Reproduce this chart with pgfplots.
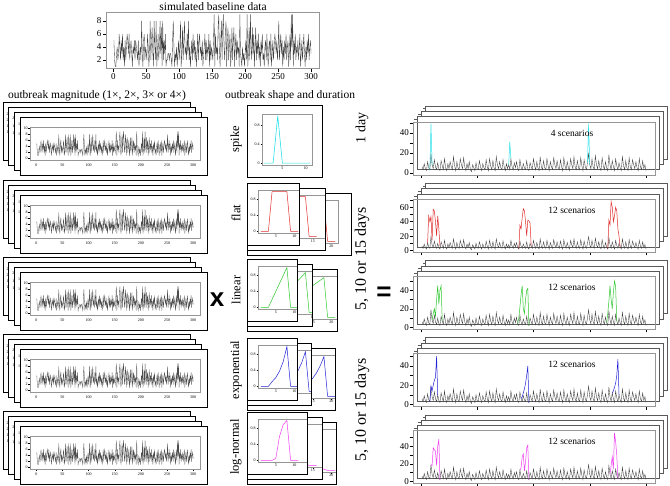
\documentclass[border=0pt]{standalone}
\usepackage{fontspec}
\setmainfont{Liberation Serif}
\newfontfamily\sansf{Liberation Sans}
\usepackage{pgfplots}
\pgfplotsset{compat=1.18}
\usepackage{pgfplotstable}

\definecolor{cspike}{RGB}{40,225,235}
\definecolor{cflat}{RGB}{225,45,45}
\definecolor{clin}{RGB}{45,200,45}
\definecolor{cexp}{RGB}{35,35,215}
\definecolor{clogn}{RGB}{240,60,240}
\definecolor{boxgray}{RGB}{150,150,150}

% simulated baseline, weeks 1-300
\pgfplotstableread[row sep=\\]{
y\\
5\\2\\1\\1\\3\\4\\2\\3\\6\\4\\ 2\\5\\3\\6\\2\\4\\1\\5\\2\\4\\
6\\5\\3\\6\\2\\4\\5\\3\\1\\4\\ 3\\5\\2\\5\\4\\3\\2\\5\\1\\3\\
4\\2\\8\\3\\1\\5\\6\\2\\4\\3\\ 2\\6\\4\\1\\3\\8\\2\\5\\7\\3\\
1\\8\\4\\2\\8\\1\\3\\6\\2\\4\\ 8\\3\\7\\1\\8\\2\\5\\3\\6\\1\\
2\\2\\3\\3\\2\\3\\3\\2\\1\\5\\ 8\\4\\1\\3\\2\\4\\1\\3\\5\\2\\
4\\8\\1\\3\\7\\2\\5\\8\\3\\4\\ 2\\6\\3\\8\\2\\4\\1\\3\\5\\2\\
6\\3\\5\\2\\4\\1\\3\\6\\2\\5\\ 6\\3\\4\\2\\5\\1\\3\\4\\6\\2\\
5\\2\\4\\3\\6\\1\\5\\2\\4\\3\\ 2\\5\\9\\1\\6\\3\\4\\2\\7\\9\\
3\\1\\5\\8\\2\\7\\9\\4\\2\\6\\ 8\\1\\5\\7\\2\\4\\6\\1\\3\\7\\
2\\5\\7\\1\\4\\6\\2\\5\\3\\4\\ 1\\9\\3\\2\\1\\4\\2\\3\\1\\3\\
5\\2\\9\\1\\3\\7\\2\\9\\4\\2\\ 7\\3\\6\\1\\4\\7\\2\\5\\3\\6\\
2\\4\\1\\5\\3\\6\\2\\3\\1\\4\\ 5\\2\\6\\3\\1\\4\\5\\2\\6\\1\\
3\\5\\2\\4\\6\\5\\3\\5\\2\\4\\ 8\\2\\4\\6\\3\\5\\1\\4\\2\\5\\
3\\6\\2\\4\\5\\1\\3\\6\\2\\9\\ 4\\9\\1\\5\\3\\6\\2\\4\\3\\5\\
2\\4\\6\\1\\3\\5\\2\\4\\6\\3\\ 1\\4\\2\\5\\3\\6\\2\\4\\5\\3\\
}\base

% baseline counts of the outbreak examples, days 1-200
\pgfplotstableread[row sep=\\]{
y\\
6\\3\\9\\4\\2\\11\\5\\3\\19\\8\\ 4\\13\\6\\3\\10\\4\\2\\12\\7\\3\\
14\\5\\2\\9\\4\\11\\6\\3\\16\\7\\ 2\\11\\5\\3\\14\\8\\4\\15\\6\\2\\
9\\4\\11\\3\\1\\8\\5\\2\\10\\4\\ 3\\12\\6\\2\\9\\5\\3\\13\\6\\2\\
14\\7\\3\\12\\5\\2\\16\\8\\4\\11\\ 5\\3\\13\\6\\2\\9\\4\\8\\3\\14\\
6\\3\\10\\5\\11\\4\\2\\13\\6\\3\\ 9\\5\\3\\12\\4\\2\\10\\6\\3\\14\\
7\\3\\11\\5\\2\\16\\6\\3\\12\\5\\ 3\\14\\7\\2\\11\\6\\3\\15\\8\\4\\
12\\5\\3\\13\\6\\2\\15\\7\\3\\11\\ 5\\2\\14\\8\\4\\16\\6\\3\\12\\5\\
3\\15\\7\\2\\13\\6\\3\\10\\19\\8\\ 4\\14\\6\\3\\17\\8\\4\\12\\5\\2\\
15\\7\\3\\11\\5\\2\\18\\8\\3\\12\\ 6\\2\\14\\7\\3\\10\\5\\2\\16\\7\\
3\\12\\5\\2\\15\\6\\3\\13\\8\\4\\ 11\\5\\2\\14\\6\\3\\12\\4\\8\\2\\
}\obase

\pgfplotsset{
  rst/.style={scale only axis, anchor=north west,
    axis line style={boxgray, line width=0.5pt},
    tick align=outside, tick pos=left,
    major tick length=1.5pt, minor tick length=1.5pt,
    every tick/.style={black, line width=0.35pt},
    /pgf/number format/assume math mode=true,
    tick label style={font=\fontsize{4}{4}\selectfont, inner sep=0.6pt}},
  shp/.style={width=80pt, height=43pt, xmin=0.2, xmax=21.8, ymin=-0.04, ymax=1.04,
    xtick={5,10,15,20}, ytick={0,0.4,0.8}},
}

% left column: one framed copy of the baseline plot
\newcommand\lpanel[7]{%
  \pgfmathsetmacro\pL{#1}\pgfmathsetmacro\pT{#2}%
  \pgfmathsetmacro\pR{\pL+187}\pgfmathsetmacro\pB{\pT+58}%
  \pgfmathsetmacro\aL{\pL+10}\pgfmathsetmacro\aT{\pT+10}%
  \draw[line width=0.8pt, fill=white] (\pL pt,-\pT pt) rectangle (\pR pt,-\pB pt);
  \begin{axis}[rst, at={(\aL pt,-\aT pt)}, width=170pt, height=33pt,
    xmin=-12, xmax=313, ymin=#3, ymax=#4, ytick={#5},
    xtick={0,50,...,300}, #6]
    #7
  \end{axis}}

\newcommand\lstack[1]{%
  \lpanel{3}{#1}{-1.1}{27}{0,5,...,25}{xticklabels={}}{}%
  \lpanel{8.67}{#1+5}{-0.9}{21}{0,5,...,20}{xticklabels={}}{}%
  \lpanel{14.33}{#1+10}{-0.7}{16}{0,5,10,15}{xticklabels={}}{}%
  \lpanel{20}{#1+15}{-0.5}{10.5}{0,2,...,10}{xticklabel style={yshift=-2pt}}%
    {\addplot[line width=0.3pt, black!70] table[x expr=\coordindex+1, y=y]{\base};}%
}

% middle column: one clipped shape plot
\newcommand\spanel[6]{%
  \begin{scope}
    \clip (#1pt,-#2pt) rectangle (#3pt,-#4pt);
    \fill[white] (#1pt,-#2pt) rectangle (#3pt,-#4pt);
    \begin{axis}[rst, #5] #6 \end{axis}
  \end{scope}
  \draw[line width=0.8pt] (#1pt,-#2pt) rectangle (#3pt,-#4pt);}

\newcommand\sstack[8]{%
  \pgfmathsetmacro\tA{#1}\pgfmathsetmacro\tB{#1+5}\pgfmathsetmacro\tC{#1+10}%
  \pgfmathsetmacro\bA{#1+62}\pgfmathsetmacro\bB{#1+67}\pgfmathsetmacro\bC{#1+72}%
  \pgfmathsetmacro\yA{#1+7}\pgfmathsetmacro\yB{#1+12}\pgfmathsetmacro\yC{#1+17}%
  \spanel{247}{\tC}{#4}{\bC}{at={(258pt,-\yC pt)},shp}{\addplot[#5,line width=0.5pt] coordinates {#8};}%
  \spanel{247}{\tB}{#3}{\bB}{at={(258pt,-\yB pt)},shp}{\addplot[#5,line width=0.5pt] coordinates {#7};}%
  \spanel{247}{\tA}{#2}{\bA}{at={(258pt,-\yA pt)},shp}{\addplot[#5,line width=0.5pt] coordinates {#6};}%
}

% right column: stack of outbreak scenarios
\newcommand\rstack[5]{%
  \pgfmathsetmacro\rT{#1}%
  \foreach \k in {3,2,1}{%
    \draw[black!65, line width=0.5pt, fill=white]
      ({(413+4.2*\k)*1pt},{-(\rT-5.3*\k)*1pt}) rectangle ({(655+4.2*\k)*1pt},{-(\rT+53-5.3*\k)*1pt});
    \draw[black!65, line width=0.4pt] ({(413+4.2*\k)*1pt},{-(\rT-5.3*\k+2.5)*1pt}) -- ++(-3pt,0);
  }
  \begin{axis}[rst, at={(413pt,-\rT pt)}, width=242pt, height=53pt,
    xmin=-6.96, xmax=207.96, ymin=#2, ymax=#3,
    xtick={0,50,...,200}, xticklabels={},
    ytick={0,20,40,60}, minor ytick={10,30,50,70},
    major tick length=3pt, minor tick length=3pt,
    tick label style={font=\fontsize{9}{9}\selectfont, inner sep=1pt}]
    \addplot[line width=0.35pt, black!75] table[x expr=\coordindex+1, y=y]{\obase};
    #5
  \end{axis}
  \node[font=\fontsize{9.5}{10}\selectfont] at (572pt,-\rT pt-11pt) {#4};
}

\begin{document}
\begin{tikzpicture}
\useasboundingbox (0,0) rectangle (670pt,-486pt);

% ---- top: baseline ----
\node[font=\fontsize{11.5}{12}\selectfont] at (213pt,-7pt) {simulated baseline data};
\begin{axis}[rst, at={(106pt,-12.4pt)}, width=213pt, height=56.2pt,
  xmin=-11, xmax=312, ymin=0.68, ymax=9.32,
  xtick={0,50,...,300}, ytick={2,4,6,8}, major tick length=3pt,
  tick label style={font=\fontsize{9}{9}\selectfont, inner sep=1.5pt}]
  \addplot[line width=0.35pt, black!75] table[x expr=\coordindex+1, y=y]{\base};
\end{axis}

% ---- left: magnitudes ----
\node[font=\fontsize{11.5}{12}\selectfont] at (97pt,-96pt) {outbreak magnitude (1×, 2×, 3× or 4×)};
\lstack{102}
\lstack{180}
\lstack{257}
\lstack{334}
\lstack{411}

% ---- middle: shapes ----
\node[font=\fontsize{11.5}{12}\selectfont] at (290pt,-96pt) {outbreak shape and duration};
\foreach \lab/\yy in {spike/139, flat/213, linear/290, exponential/370, log-normal/447}
  \node[rotate=90, font=\fontsize{12.5}{13}\selectfont] at (236pt,-\yy pt) {\lab};

\spanel{247}{105}{322}{177}{at={(262pt,-114pt)}, width=50pt, height=51pt,
  xmin=0.6, xmax=11.4, ymin=-0.04, ymax=1.04, xtick={5,10}, ytick={0,0.4,0.8}}
  {\addplot[cspike, line width=0.6pt] coordinates {(1,0)(2,0)(3,0)(4,1)(5,0)(6,0)(7,0)(8,0)(9,0)(10,0)(11,0)};}

\sstack{183}{299}{325}{351}{cflat}
  {(1,0)(2,0)(3,0)(4,1)(5,1)(6,1)(7,1)(8,1)(9,0)(10,0)(11,0)}
  {(1,0)(2,0)(3,0)(4,1)(5,1)(6,1)(7,1)(8,1)(9,1)(10,1)(11,1)(12,1)(13,1)(14,0)(15,0)(16,0)}
  {(1,0)(2,0)(3,0)(4,1)(5,1)(6,1)(7,1)(8,1)(9,1)(10,1)(11,1)(12,1)(13,1)(14,1)(15,1)(16,1)(17,1)(18,1)(19,0)(20,0)(21,0)}

\sstack{259}{297}{312}{337}{clin}
  {(1,0)(2,0)(3,0)(4,0.2)(5,0.4)(6,0.6)(7,0.8)(8,1)(9,0)(10,0)(11,0)}
  {(1,0)(2,0)(3,0)(4,0.1)(5,0.2)(6,0.3)(7,0.4)(8,0.5)(9,0.6)(10,0.7)(11,0.8)(12,0.9)(13,1)(14,0)(15,0)(16,0)}
  {(1,0)(2,0)(3,0)(4,0.067)(5,0.133)(6,0.2)(7,0.267)(8,0.333)(9,0.4)(10,0.467)(11,0.533)(12,0.6)(13,0.667)(14,0.733)(15,0.8)(16,0.867)(17,0.933)(18,1)(19,0)(20,0)(21,0)}

\sstack{338}{297}{311}{335}{cexp}
  {(1,0)(2,0)(3,0)(4,0.12)(5,0.22)(6,0.38)(7,0.62)(8,1)(9,0)(10,0)(11,0)}
  {(1,0)(2,0)(3,0)(4,0.04)(5,0.06)(6,0.09)(7,0.13)(8,0.19)(9,0.27)(10,0.38)(11,0.52)(12,0.72)(13,1)(14,0)(15,0)(16,0)}
  {(1,0)(2,0)(3,0)(4,0.025)(5,0.033)(6,0.043)(7,0.056)(8,0.073)(9,0.094)(10,0.12)(11,0.16)(12,0.21)(13,0.27)(14,0.35)(15,0.46)(16,0.59)(17,0.77)(18,1)(19,0)(20,0)(21,0)}

\sstack{412}{307}{322}{336}{clogn}
  {(1,0)(2,0)(3,0)(4,0)(5,0.05)(6,0.6)(7,0.9)(8,1)(9,0)(10,0)(11,0)}
  {(1,0)(2,0)(3,0)(4,0.02)(5,0.4)(6,0.9)(7,1)(8,0.75)(9,0.5)(10,0.3)(11,0.15)(12,0.08)(13,0.04)(14,0)(15,0)(16,0)}
  {(1,0)(2,0)(3,0)(4,0.01)(5,0.1)(6,0.45)(7,0.85)(8,1)(9,0.9)(10,0.72)(11,0.55)(12,0.4)(13,0.28)(14,0.19)(15,0.12)(16,0.08)(17,0.05)(18,0.03)(19,0)(20,0)(21,0)}

% operators and durations
\node[font=\sansf\bfseries\fontsize{26}{26}\selectfont] at (217pt,-300pt) {x};
\node[font=\sansf\bfseries\fontsize{26}{26}\selectfont] at (384pt,-294pt) {=};
\node[rotate=90, font=\fontsize{14}{14}\selectfont] at (362pt,-128pt) {1 day};
\node[rotate=90, font=\fontsize{16}{16}\selectfont] at (362pt,-259pt) {5, 10 or 15 days};
\node[rotate=90, font=\fontsize{16}{16}\selectfont] at (362pt,-410pt) {5, 10 or 15 days};

% ---- right: scenarios ----
\rstack{122}{-2.3}{50.7}{4 scenarios}{%
  \addplot[cspike, line width=0.5pt] coordinates {(8,3)(9,49)(10,8)};
  \addplot[cspike, line width=0.5pt] coordinates {(78,8)(79,31)(80,14)};
  \addplot[cspike, line width=0.5pt] coordinates {(148,10)(149,49)(150,8)};}
\rstack{199.3}{-2.5}{71}{12 scenarios}{%
  \addplot[cflat, line width=0.5pt] coordinates {(6,11)(7,48)(8,40)(9,47)(10,14)(11,57)(12,55)(13,40)(14,20)(15,48)(16,30)(17,6)};
  \addplot[cflat, line width=0.5pt] coordinates {(87,2)(88,35)(89,30)(90,45)(91,58)(92,55)(93,40)(94,20)(95,42)(96,41)(97,38)(98,6)};
  \addplot[cflat, line width=0.5pt] coordinates {(166,2)(167,42)(168,35)(169,68)(170,60)(171,40)(172,48)(173,60)(174,55)(175,30)(176,20)(177,5)};}
\rstack{276.4}{-2.2}{55}{12 scenarios}{%
  \addplot[clin, line width=0.5pt] coordinates {(10,8)(11,15)(12,20)(13,12)(14,30)(15,45)(16,25)(17,40)(18,45)(19,7)};
  \addplot[clin, line width=0.5pt] coordinates {(86,4)(87,10)(88,22)(89,35)(90,45)(91,20)(92,15)(93,30)(94,40)(95,42)(96,2)};
  \addplot[clin, line width=0.5pt] coordinates {(165,5)(166,15)(167,28)(168,45)(169,30)(170,20)(171,38)(172,50)(173,44)(174,7)};}
\rstack{353.6}{-2.2}{52.7}{12 scenarios}{%
  \addplot[cexp, line width=0.5pt] coordinates {(8,3)(9,19)(10,14)(11,20)(12,25)(13,28)(14,50)(15,10)};
  \addplot[cexp, line width=0.5pt] coordinates {(89,6)(90,8)(91,12)(92,16)(93,22)(94,30)(95,40)(96,2)};
  \addplot[cexp, line width=0.5pt] coordinates {(170,12)(171,14)(172,18)(173,22)(174,30)(175,47)(176,10)};}
\rstack{430.7}{-2.6}{57.5}{12 scenarios}{%
  \addplot[clogn, line width=0.5pt] coordinates {(9,19)(10,18)(11,38)(12,36)(13,34)(14,18)(15,40)(16,48)(17,2)};
  \addplot[clogn, line width=0.5pt] coordinates {(88,13)(89,15)(90,28)(91,31)(92,12)(93,22)(94,38)(95,41)(96,2)};
  \addplot[clogn, line width=0.5pt] coordinates {(168,8)(169,18)(170,28)(171,14)(172,55)(173,45)(174,30)(175,3)};}

\end{tikzpicture}
\end{document}
